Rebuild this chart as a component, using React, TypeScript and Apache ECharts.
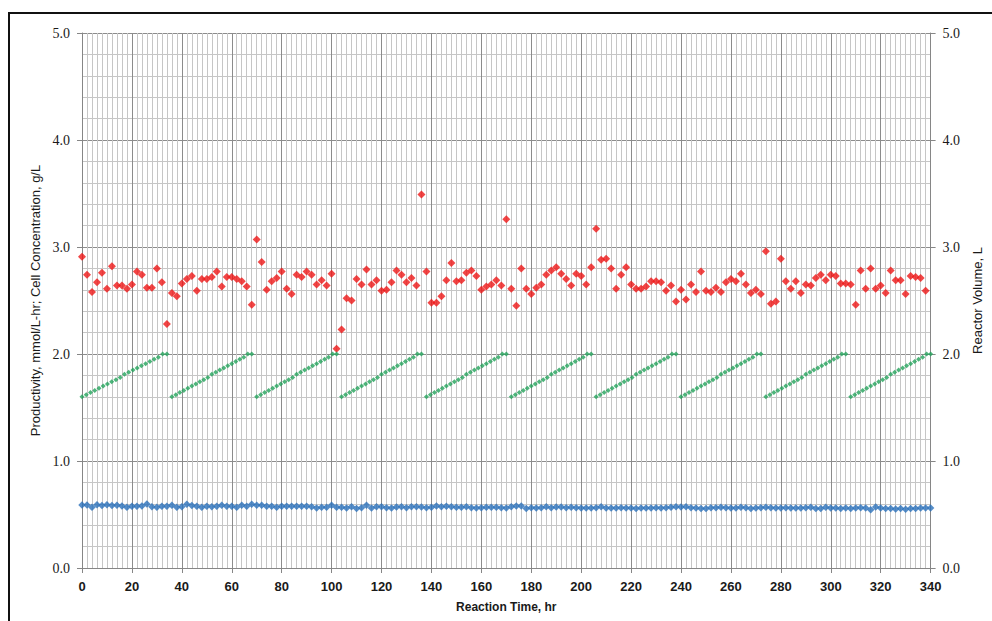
import React, { useEffect, useRef } from "react";
import * as echarts from "echarts";

// Sampling hours for the productivity and cell-concentration series
const hours = [
  0, 2, 4, 6, 8, 10, 12, 14, 16, 18, 20, 22, 24, 26, 28, 30, 32, 34, 36, 38,
  40, 42, 44, 46, 48, 50, 52, 54, 56, 58, 60, 62, 64, 66, 68, 70, 72, 74, 76, 78,
  80, 82, 84, 86, 88, 90, 92, 94, 96, 98, 100, 102, 104, 106, 108, 110, 112, 114, 116, 118,
  120, 122, 124, 126, 128, 130, 132, 134, 136, 138, 140, 142, 144, 146, 148, 150, 152, 154, 156, 158,
  160, 162, 164, 166, 168, 170, 172, 174, 176, 178, 180, 182, 184, 186, 188, 190, 192, 194, 196, 198,
  200, 202, 204, 206, 208, 210, 212, 214, 216, 218, 220, 222, 224, 226, 228, 230, 232, 234, 236, 238,
  240, 242, 244, 246, 248, 250, 252, 254, 256, 258, 260, 262, 264, 266, 268, 270, 272, 274, 276, 278,
  280, 282, 284, 286, 288, 290, 292, 294, 296, 298, 300, 302, 304, 306, 308, 310, 312, 314, 316, 318,
  320, 322, 324, 326, 328, 330, 332, 334, 336, 338, 340,
];

// Productivity, mmol/L-hr (red), hours 0..338
const productivity = [
  2.91, 2.74, 2.58, 2.67, 2.76, 2.61, 2.82, 2.64, 2.64, 2.61,
  2.65, 2.77, 2.74, 2.62, 2.62, 2.80, 2.67, 2.28, 2.57, 2.54,
  2.66, 2.70, 2.73, 2.59, 2.70, 2.70, 2.72, 2.77, 2.63, 2.72,
  2.72, 2.70, 2.68, 2.63, 2.46, 3.07, 2.86, 2.60, 2.68, 2.71,
  2.77, 2.61, 2.56, 2.74, 2.72, 2.77, 2.74, 2.65, 2.69, 2.64,
  2.75, 2.05, 2.23, 2.52, 2.50, 2.70, 2.65, 2.79, 2.65, 2.69,
  2.59, 2.60, 2.67, 2.78, 2.74, 2.67, 2.71, 2.64, 3.49, 2.77,
  2.48, 2.48, 2.54, 2.69, 2.85, 2.68, 2.69, 2.76, 2.78, 2.73,
  2.60, 2.63, 2.65, 2.69, 2.64, 3.26, 2.61, 2.45, 2.80, 2.61,
  2.56, 2.62, 2.65, 2.74, 2.78, 2.81, 2.75, 2.70, 2.64, 2.75,
  2.73, 2.65, 2.81, 3.17, 2.88, 2.89, 2.80, 2.61, 2.74, 2.81,
  2.65, 2.61, 2.61, 2.63, 2.68, 2.68, 2.67, 2.59, 2.64, 2.49,
  2.60, 2.51, 2.65, 2.58, 2.77, 2.59, 2.58, 2.62, 2.58, 2.67,
  2.70, 2.68, 2.75, 2.65, 2.57, 2.60, 2.56, 2.96, 2.47, 2.49,
  2.89, 2.68, 2.61, 2.68, 2.57, 2.65, 2.64, 2.71, 2.74, 2.69,
  2.74, 2.73, 2.66, 2.66, 2.65, 2.46, 2.78, 2.61, 2.80, 2.61,
  2.64, 2.57, 2.78, 2.69, 2.69, 2.56, 2.73, 2.72, 2.71, 2.59,
];

// Cell concentration, g/L (blue), hours 0..340
const cellConcentration = [
  0.589, 0.589, 0.567, 0.592, 0.583, 0.592, 0.583, 0.586, 0.579, 0.567,
  0.576, 0.576, 0.579, 0.598, 0.573, 0.567, 0.576, 0.576, 0.586, 0.567,
  0.573, 0.595, 0.583, 0.576, 0.567, 0.576, 0.573, 0.576, 0.586, 0.576,
  0.576, 0.567, 0.586, 0.576, 0.595, 0.586, 0.586, 0.576, 0.576, 0.567,
  0.576, 0.576, 0.576, 0.576, 0.576, 0.576, 0.573, 0.561, 0.567, 0.567,
  0.586, 0.567, 0.567, 0.561, 0.573, 0.555, 0.564, 0.586, 0.561, 0.573,
  0.573, 0.564, 0.561, 0.570, 0.573, 0.564, 0.573, 0.573, 0.570, 0.564,
  0.567, 0.579, 0.573, 0.576, 0.573, 0.567, 0.567, 0.573, 0.564, 0.561,
  0.564, 0.567, 0.567, 0.567, 0.564, 0.561, 0.573, 0.579, 0.579, 0.555,
  0.564, 0.561, 0.564, 0.573, 0.564, 0.570, 0.570, 0.564, 0.567, 0.564,
  0.561, 0.561, 0.561, 0.564, 0.573, 0.561, 0.561, 0.561, 0.564, 0.561,
  0.561, 0.555, 0.561, 0.561, 0.561, 0.564, 0.561, 0.564, 0.567, 0.573,
  0.570, 0.573, 0.564, 0.561, 0.555, 0.555, 0.564, 0.564, 0.567, 0.564,
  0.561, 0.561, 0.567, 0.564, 0.555, 0.561, 0.564, 0.567, 0.564, 0.561,
  0.561, 0.564, 0.561, 0.561, 0.561, 0.564, 0.567, 0.555, 0.555, 0.567,
  0.561, 0.561, 0.555, 0.561, 0.555, 0.561, 0.564, 0.561, 0.545, 0.570,
  0.561, 0.555, 0.555, 0.551, 0.555, 0.548, 0.555, 0.555, 0.561, 0.561, 0.561,
];

// Reactor volume, L (green): sample times of each fill cycle
const rampTimes = [
  [0, 1.7, 3.4, 5.1, 6.8, 8.5, 10.2, 11.9, 13.6, 15.3, 17, 18.7, 20.4, 22.1, 23.8, 25.5, 27.2, 28.9, 30.6, 32.3, 34],
  [36, 37.6, 39.2, 40.8, 42.4, 44, 45.6, 47.2, 48.8, 50.4, 52, 53.6, 55.2, 56.8, 58.4, 60, 61.6, 63.2, 64.8, 66.4, 68],
  [70, 71.6, 73.2, 74.8, 76.4, 78, 79.6, 81.2, 82.8, 84.4, 86, 87.6, 89.2, 90.8, 92.4, 94, 95.6, 97.2, 98.8, 100.4, 102],
  [104, 105.6, 107.2, 108.8, 110.4, 112, 113.6, 115.2, 116.8, 118.4, 120, 121.6, 123.2, 124.8, 126.4, 128, 129.6, 131.2, 132.8, 134.4, 136],
  [138, 139.6, 141.2, 142.8, 144.4, 146, 147.6, 149.2, 150.8, 152.4, 154, 155.6, 157.2, 158.8, 160.4, 162, 163.6, 165.2, 166.8, 168.4, 170],
  [172, 173.6, 175.2, 176.8, 178.4, 180, 181.6, 183.2, 184.8, 186.4, 188, 189.6, 191.2, 192.8, 194.4, 196, 197.6, 199.2, 200.8, 202.4, 204],
  [206, 207.6, 209.2, 210.8, 212.4, 214, 215.6, 217.2, 218.8, 220.4, 222, 223.6, 225.2, 226.8, 228.4, 230, 231.6, 233.2, 234.8, 236.4, 238],
  [240, 241.6, 243.2, 244.8, 246.4, 248, 249.6, 251.2, 252.8, 254.4, 256, 257.6, 259.2, 260.8, 262.4, 264, 265.6, 267.2, 268.8, 270.4, 272],
  [274, 275.6, 277.2, 278.8, 280.4, 282, 283.6, 285.2, 286.8, 288.4, 290, 291.6, 293.2, 294.8, 296.4, 298, 299.6, 301.2, 302.8, 304.4, 306],
  [308, 309.6, 311.2, 312.8, 314.4, 316, 317.6, 319.2, 320.8, 322.4, 324, 325.6, 327.2, 328.8, 330.4, 332, 333.6, 335.2, 336.8, 338.4, 340],
];
// Reactor volume readings within one fill cycle
const rampVolume = [
  1.60, 1.62, 1.64, 1.66, 1.68, 1.70, 1.72, 1.74, 1.76, 1.78, 1.81,
  1.83, 1.85, 1.87, 1.89, 1.91, 1.93, 1.95, 1.97, 2.00, 2.00,
];

const xTicks = { min: 0, max: 340, interval: 20 };
const yTicks = { min: 0, max: 5, interval: 1 };

export default function App() {
  const ref = useRef<HTMLDivElement>(null);

  useEffect(() => {
    const chart = echarts.init(ref.current!, null, { renderer: "svg" });

    const redData = productivity.map((v, i) => [hours[i], v]);
    const blueData = cellConcentration.map((v, i) => [hours[i], v]);
    const greenData: number[][] = [];
    rampTimes.forEach((ts) => ts.forEach((t, i) => greenData.push([t, rampVolume[i]])));

    const majorGrid = { show: true, lineStyle: { color: "#8c8c8c", width: 1 } };
    const minorGrid = { show: true, lineStyle: { color: "#c6c6c6", width: 1 } };
    const axisGray = { show: true, lineStyle: { color: "#868686", width: 1 } };
    const yLabel = {
      formatter: (v: number) => v.toFixed(1),
      fontFamily: "Liberation Serif",
      fontSize: 14,
      color: "#1a1a1a",
      margin: 12,
    };

    chart.setOption({
      animation: false,
      backgroundColor: "#ffffff",
      grid: { left: 82, right: 61, top: 33, bottom: 53, containLabel: false },
      xAxis: {
        type: "value",
        ...xTicks,
        name: "Reaction Time, hr",
        nameLocation: "middle",
        nameGap: 33,
        nameTextStyle: { fontFamily: "Liberation Sans", fontWeight: "bold", fontSize: 12, color: "#1a1a1a" },
        axisLine: axisGray,
        axisTick: { show: true, length: 5, lineStyle: { color: "#868686" } },
        axisLabel: { fontFamily: "Liberation Sans", fontWeight: "bold", fontSize: 13, color: "#1a1a1a", margin: 12 },
        splitLine: majorGrid,
        minorTick: { show: false, splitNumber: 10 },
        minorSplitLine: minorGrid,
      },
      yAxis: [
        {
          type: "value",
          position: "left",
          ...yTicks,
          name: "Productivity, mmol/L-hr; Cell Concentration, g/L",
          nameLocation: "middle",
          nameRotate: 90,
          nameGap: 39,
          nameTextStyle: { fontFamily: "Liberation Sans", fontSize: 13, color: "#1a1a1a" },
          axisLine: axisGray,
          axisTick: { show: true, length: 5, lineStyle: { color: "#868686" } },
          axisLabel: yLabel,
          splitLine: majorGrid,
          minorTick: { show: false, splitNumber: 5 },
          minorSplitLine: minorGrid,
        },
        {
          type: "value",
          position: "right",
          ...yTicks,
          name: "Reactor Volume, L",
          nameLocation: "middle",
          nameRotate: 90,
          nameGap: 40,
          nameTextStyle: { fontFamily: "Liberation Sans", fontSize: 13, color: "#1a1a1a" },
          axisLine: axisGray,
          axisTick: { show: true, length: 5, lineStyle: { color: "#868686" } },
          axisLabel: yLabel,
          splitLine: { show: false },
          minorSplitLine: { show: false },
        },
      ],
      series: [
        {
          type: "scatter",
          name: "Cell Concentration",
          yAxisIndex: 0,
          data: blueData,
          symbol: "diamond",
          symbolSize: 7.5,
          itemStyle: { color: "#2b70ba" },
        },
        {
          type: "scatter",
          name: "Productivity",
          yAxisIndex: 0,
          data: redData,
          symbol: "diamond",
          symbolSize: 8,
          itemStyle: { color: "#ee1616" },
        },
        {
          type: "scatter",
          name: "Reactor Volume",
          yAxisIndex: 1,
          data: greenData,
          symbol: "diamond",
          symbolSize: 5,
          itemStyle: { color: "#22a35a" },
        },
      ],
      graphic: [
        { type: "line", shape: { x1: 9, y1: 12, x2: 9, y2: 621 }, style: { stroke: "#111", lineWidth: 2 } },
        { type: "line", shape: { x1: 8, y1: 13, x2: 992, y2: 13 }, style: { stroke: "#111", lineWidth: 2 } },
      ],
    });

    return () => chart.dispose();
  }, []);

  return (
    <div
      ref={ref}
      style={{ position: "fixed", left: 0, top: 0, width: 992, height: 621, background: "#fff" }}
    />
  );
}
